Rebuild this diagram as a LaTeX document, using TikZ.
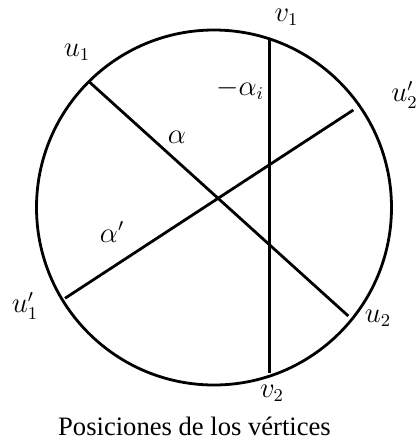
\documentclass[tikz,border=0pt]{standalone}
\usepackage{fontspec}
\setmainfont{Liberation Serif}
\begin{document}
\begin{tikzpicture}[x=0.5pt,y=-0.5pt,
  edge/.style={line width=1.4pt},
  lbl/.style={inner sep=0pt,font=\fontsize{13.3}{15}\selectfont}]
\useasboundingbox (0,0) rectangle (417,446);
\coordinate (c) at (214,207.5);
\draw[edge] (c) circle[radius=88.75pt];
\coordinate (u1) at (88.3,81);
\coordinate (u2) at (348.3,316);
\coordinate (u1p) at (65,298.3);
\coordinate (u2p) at (353.3,110);
\coordinate (v1) at (269.3,39.3);
\coordinate (v2) at (269.3,373.3);
\draw[edge] (u1) -- (u2);
\draw[edge] (u1p) -- (u2p);
\draw[edge] (v1) -- (v2);
\node[lbl] (lv1) at (286.5,17) {$v_1$};
\node[lbl] (lu1) at (77,52) {$u_1$};
\node[lbl] (lai) at (240,89) {$-\alpha_i$};
\node[lbl,anchor=west] (lu2p) at (391,95) {$u_2'$};
\node[lbl] (la) at (177,137) {$\alpha$};
\node[lbl] (lap) at (112,232) {$\alpha'$};
\node[lbl] (lu1p) at (25,306) {$u_1'$};
\node[lbl] (lu2) at (378,318) {$u_2$};
\node[lbl] (lv2) at (272,393) {$v_2$};
\node[lbl] (cap) at (194.5,426) {Posiciones de los vértices};
\end{tikzpicture}
\end{document}
